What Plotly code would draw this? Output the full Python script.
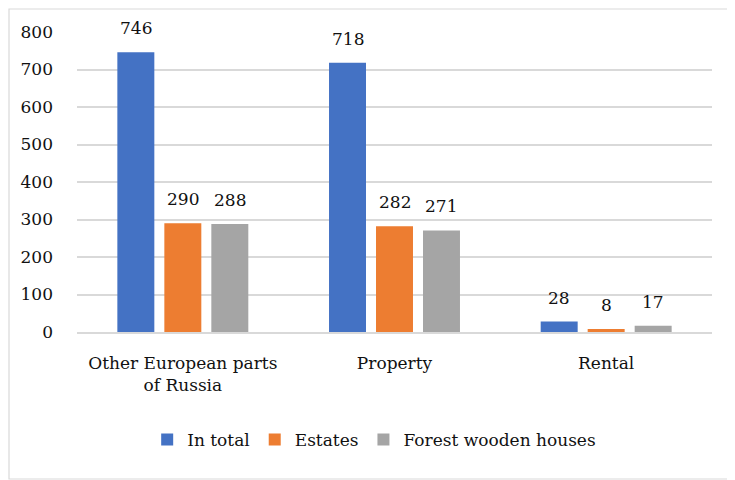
import plotly.graph_objects as go

categories = ["Other European parts<br>of Russia", "Property", "Rental"]
series_names = ["In total", "Estates", "Forest wooden houses"]
in_total = [746, 718, 28]
estates = [290, 282, 8]
forest_houses = [288, 271, 17]
colors = ["#4472C4", "#ED7D31", "#A5A5A5"]
y_ticks = [0, 100, 200, 300, 400, 500, 600, 700, 800]

FONT = "DejaVu Serif"
FS = 17
# the page adds an 8px body margin, so the figure is sized to fit the window
W, H = 727, 472
L, T = 69, 24
plot_w, plot_h = 635, 300
R = W - L - plot_w
B = H - T - plot_h
BARGAP = 0.334
BARGROUPGAP = 0.213

fig = go.Figure()
all_series = [in_total, estates, forest_houses]
for name, vals, col in zip(series_names, all_series, colors):
    fig.add_trace(go.Bar(x=categories, y=vals, name=name, marker_color=col,
                         marker_line_width=0))

# value labels above bars
cat_w = plot_w / len(categories)
slot = cat_w * (1 - BARGAP) / len(all_series)
annotations = []
for i, vals in enumerate(all_series):
    for c, v in zip(categories, vals):
        annotations.append(dict(x=c, y=v, text=str(v), showarrow=False,
                                xshift=(i - 1) * slot, yshift=12, yanchor="bottom",
                                font=dict(family=FONT, size=FS, color="#111")))

fig.update_layout(
    width=W, height=H,
    margin=dict(l=L, r=R, t=T, b=B, autoexpand=False),
    paper_bgcolor="white", plot_bgcolor="white",
    barmode="group", bargap=BARGAP, bargroupgap=BARGROUPGAP,
    font=dict(family=FONT, size=FS, color="#111"),
    showlegend=True,
    legend=dict(orientation="h", x=0.468, xanchor="center", y=-0.36, yanchor="middle",
                font=dict(family=FONT, size=FS, color="#111"), itemclick=False,
                traceorder="normal"),
    annotations=annotations,
    shapes=[dict(type="rect", xref="paper", yref="paper",
                 x0=(1 - L) / plot_w, x1=(W + 20 - L) / plot_w,
                 y0=(H - B - 471) / plot_h, y1=(H - B - 1) / plot_h,
                 line=dict(color="#D9D9D9", width=1.2), fillcolor="rgba(0,0,0,0)",
                 layer="below")],
)
fig.update_yaxes(range=[0, 800], tickvals=y_ticks, showgrid=True, gridcolor="#D9D9D9",
                 gridwidth=1.5, zeroline=False, showline=False, ticks="", automargin=False,
                 ticklabelstandoff=23, tickfont=dict(family=FONT, size=FS, color="#111"))
fig.update_xaxes(showline=True, linecolor="#D9D9D9", linewidth=1.5, ticks="", automargin=False,
                 ticklabelstandoff=15, tickfont=dict(family=FONT, size=FS, color="#111"))

fig.write_html("out.html")
